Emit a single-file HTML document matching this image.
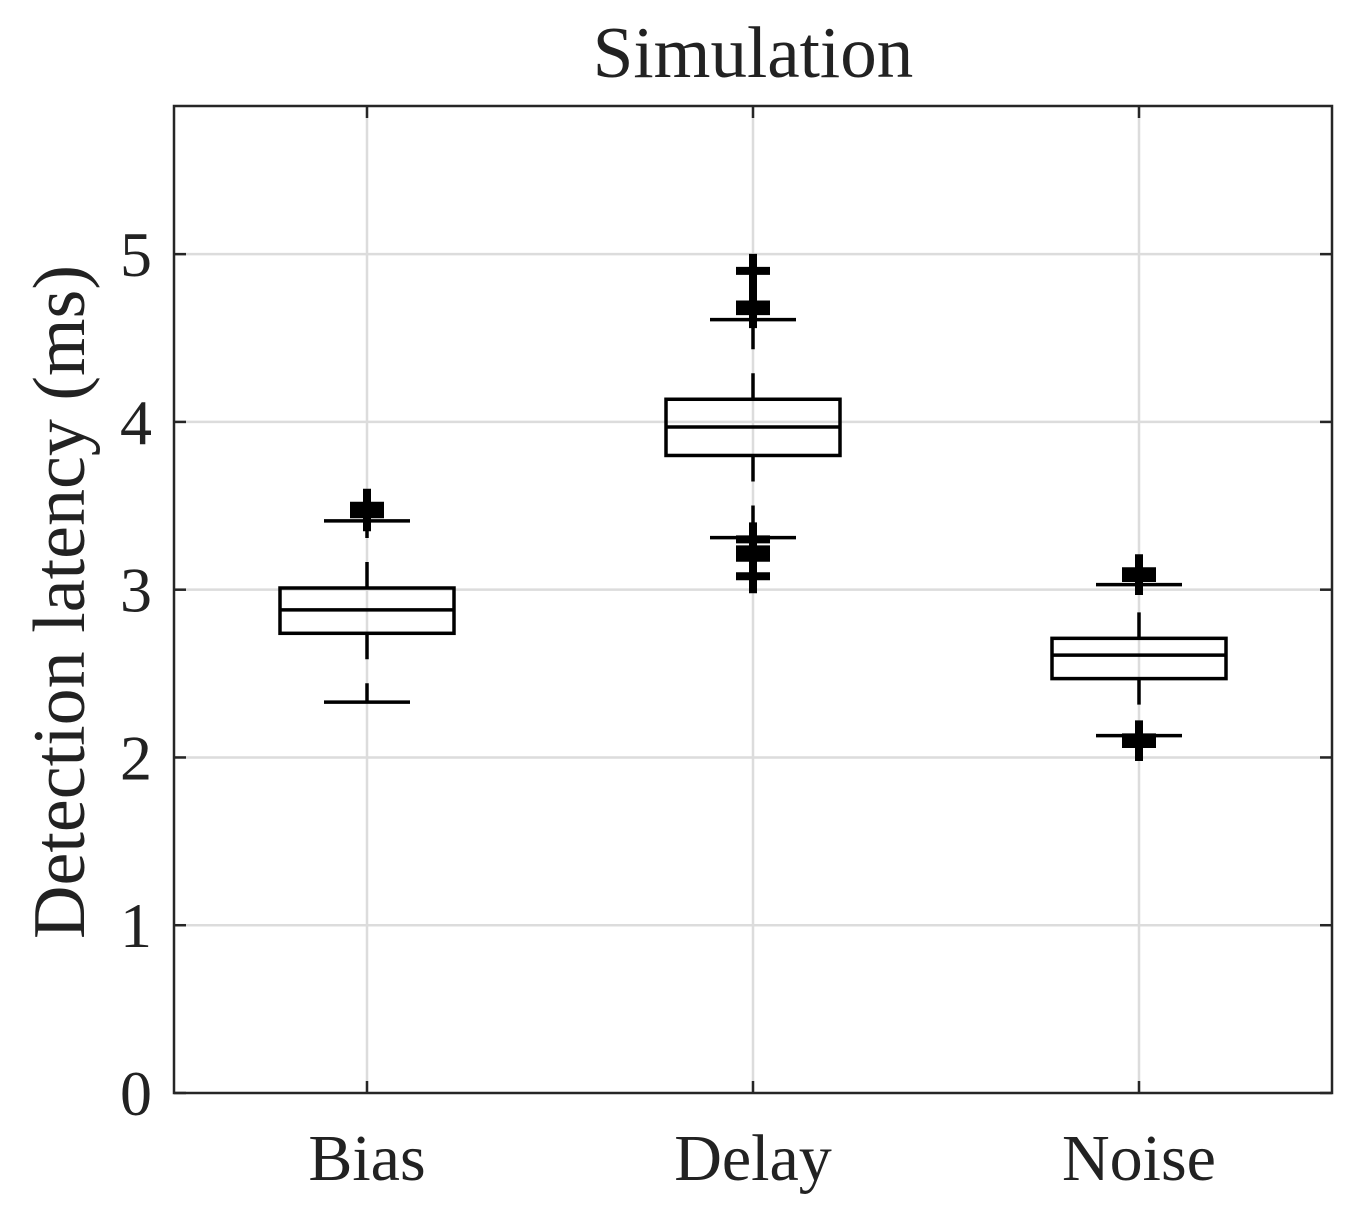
<!DOCTYPE html>
<html><head><meta charset="utf-8"><style>
body{margin:0;background:#fff}
svg text{font-family:"Liberation Serif",serif;fill:#222}
</style></head><body>
<svg id="chart" width="1359" height="1220" viewBox="0 0 1359 1220" xmlns="http://www.w3.org/2000/svg">
<rect width="1359" height="1220" fill="#fff"/>
<g id="grid"></g>
<g id="boxes"></g>
<rect x="174" y="106" width="1158" height="987" fill="none" stroke="#262626" stroke-width="2.5"/>
<g id="ticks"></g>
<text x="753" y="77" font-size="73" text-anchor="middle">Simulation</text>
<text transform="translate(84,602) rotate(-90)" font-size="74" text-anchor="middle">Detection latency (ms)</text>
</svg>
<script>
const categories=["Bias","Delay","Noise"];
const q1=[2.74,3.80,2.47];
const medians=[2.88,3.97,2.61];
const q3=[3.01,4.135,2.71];
const whiskLo=[2.33,3.31,2.13];
const whiskHi=[3.41,4.61,3.03];
const outliers=[[3.50,3.48,3.46,3.45],[4.90,4.70,4.68,4.67,4.66,3.30,3.24,3.22,3.21,3.19,3.08],[3.11,3.09,3.07,2.12,2.10,2.08]];
const yTicks=[0,1,2,3,4,5];
const NS="http://www.w3.org/2000/svg";
const L=174,R=1332,T=106,B=1093,yMax=5.883;
const y=v=>B-(v/yMax)*(B-T);
const x=i=>L+(i+0.5)*(R-L)/categories.length;
function mk(p,tag,at){const e=document.createElementNS(NS,tag);for(const k in at)e.setAttribute(k,at[k]);p.appendChild(e);return e;}
const grid=document.getElementById('grid'),ticks=document.getElementById('ticks'),boxes=document.getElementById('boxes');
yTicks.forEach(t=>{
 if(t>0){const g=mk(grid,'line',{x1:L,x2:R,y1:y(t),y2:y(t),stroke:'#dcdcdc','stroke-width':2.5});
 
 }
 mk(ticks,'line',{x1:L,x2:L+12,y1:y(t),y2:y(t),stroke:'#262626','stroke-width':2.5});
 mk(ticks,'line',{x1:R-12,x2:R,y1:y(t),y2:y(t),stroke:'#262626','stroke-width':2.5});
 const tx=mk(ticks,'text',{x:L-22,y:y(t)+22,'font-size':64,'text-anchor':'end'});tx.textContent=t;
 
 
});
categories.forEach((c,i)=>{
 const cx=x(i);
 const g=mk(grid,'line',{x1:cx,x2:cx,y1:T,y2:B,stroke:'#dcdcdc','stroke-width':2.5});
 
 
 mk(ticks,'line',{x1:cx,x2:cx,y1:B-12,y2:B,stroke:'#262626','stroke-width':2.5});
 mk(ticks,'line',{x1:cx,x2:cx,y1:T,y2:T+12,stroke:'#262626','stroke-width':2.5});
 const tx=mk(ticks,'text',{x:cx,y:1180,'font-size':66,'text-anchor':'middle'});tx.textContent=c;
 
 
 const grp=mk(boxes,'g',{});
 
 
 const st={stroke:'#000','stroke-width':3.5,fill:'none'};
 mk(grp,'line',Object.assign({x1:cx,x2:cx,y1:y(q3[i]),y2:y(whiskHi[i]),'stroke-dasharray':'26 24'},st));
 mk(grp,'line',Object.assign({x1:cx,x2:cx,y1:y(q1[i]),y2:y(whiskLo[i]),'stroke-dasharray':'26 24'},st));
 mk(grp,'line',Object.assign({x1:cx-43,x2:cx+43,y1:y(whiskHi[i]),y2:y(whiskHi[i])},st));
 mk(grp,'line',Object.assign({x1:cx-43,x2:cx+43,y1:y(whiskLo[i]),y2:y(whiskLo[i])},st));
 mk(grp,'rect',Object.assign({x:cx-87,y:y(q3[i]),width:174,height:y(q1[i])-y(q3[i])},st));
 mk(grp,'line',Object.assign({x1:cx-87,x2:cx+87,y1:y(medians[i]),y2:y(medians[i])},st));
 outliers[i].forEach(v=>{
  const p=mk(grp,'path',{d:`M${cx-17} ${y(v)}H${cx+17}M${cx} ${y(v)-17}V${y(v)+17}`,stroke:'#000','stroke-width':8,fill:'none'});
  
  
 });
});
</script>
</body></html>
